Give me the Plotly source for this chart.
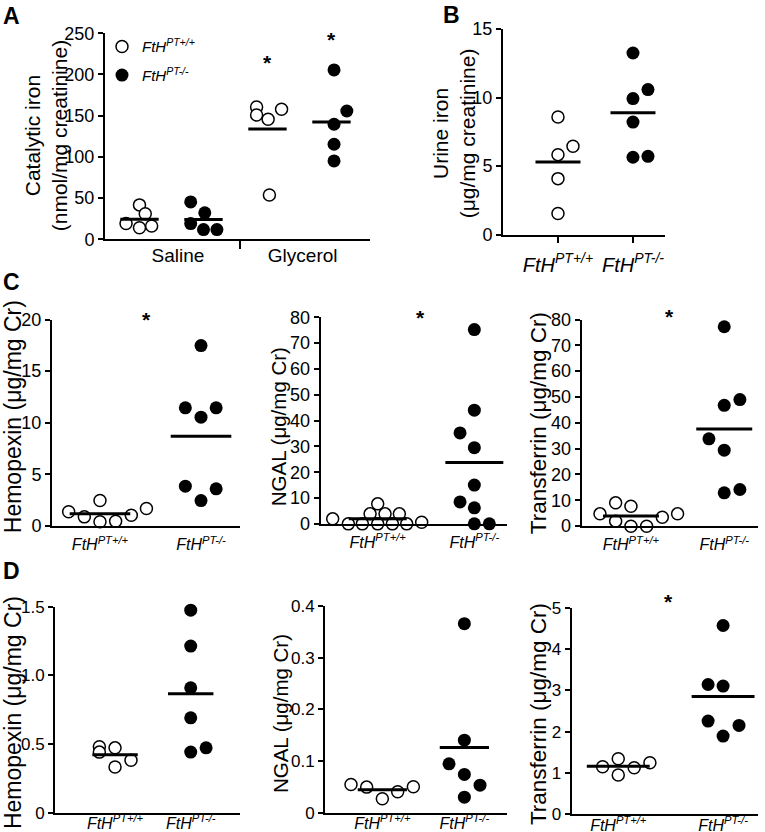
import numpy as np
import plotly.graph_objects as go

# ---------------- DATA ----------------
GROUP_LABELS = ["Saline", "Glycerol"]
GENOTYPE_WT = "<i>FtH<sup>PT+/+</sup></i>"
GENOTYPE_KO = "<i>FtH<sup>PT-/-</sup></i>"

# Panel A: catalytic iron (nmol/mg creatinine)
A_SALINE_WT = [41.7, 31.0, 19.0, 14.0, 16.0]
A_SALINE_KO = [45.3, 32.0, 19.0, 11.7, 11.7]
A_GLY_WT = [160.6, 150.9, 145.6, 157.8, 53.8]
A_GLY_KO = [205.5, 155.7, 139.6, 115.3, 95.1]

# Panel B: urine iron (ug/mg creatinine)
B_WT = [8.58, 6.44, 5.83, 4.08, 1.53]
B_KO = [13.25, 10.58, 9.92, 8.21, 5.64, 5.71]

# Panel C (ug/mg Cr)
C_HPX_WT = [1.39, 0.90, 2.48, 0.42, 0.48, 1.06, 1.71]
C_HPX_KO = [17.48, 11.45, 11.45, 10.55, 3.87, 3.61, 2.48]
C_NGAL_WT = [1.94, 0.0, 0.0, 3.87, 7.74, 0.0, 3.87, 0.0, 3.87, 0.0, 0.65]
C_NGAL_KO = [75.2, 44.0, 35.2, 29.5, 15.0, 8.5, 6.2, 0.0, 0.0]
C_TF_WT = [4.77, 9.03, 1.94, 7.74, 0.0, 0.0, 3.48, 4.77]
C_TF_KO = [77.2, 46.8, 49.0, 33.8, 29.4, 12.9, 14.2]

# Panel D (ug/mg Cr)
D_HPX_WT = [0.481, 0.442, 0.473, 0.333, 0.383]
D_HPX_KO = [1.476, 1.214, 0.910, 0.692, 0.442, 0.473]
D_NGAL_WT = [0.0548, 0.0497, 0.0271, 0.0406, 0.0503]
D_NGAL_KO = [0.366, 0.1406, 0.0948, 0.0742, 0.0535, 0.0303]
D_TF_WT = [1.153, 1.347, 0.952, 1.129, 1.250]
D_TF_KO = [4.573, 3.145, 3.105, 2.258, 2.153, 1.895]

# Tick values
A_TICKS = [0, 50, 100, 150, 200, 250]
B_TICKS = [0, 5, 10, 15]
C_HPX_TICKS = [0, 5, 10, 15, 20]
C_NGAL_TICKS = [0, 10, 20, 30, 40, 50, 60, 70, 80]
C_TF_TICKS = [0, 10, 20, 30, 40, 50, 60, 70, 80]
D_HPX_TICKS = [0, 0.5, 1.0, 1.5]
D_HPX_TICKTEXT = ["0", "0.5", "1.0", "1.5"]
D_NGAL_TICKS = [0, 0.1, 0.2, 0.3, 0.4]
D_NGAL_TICKTEXT = ["0", "0.1", "0.2", "0.3", "0.4"]
D_TF_TICKS = [0, 1, 2, 3, 4, 5]

# Significance asterisks: (panel index, x in category units, y value)
STARS = [(1, 3, 214), (1, 4, 243), (3, 1.46, 20), (4, 1.445, 80), (5, 1.418, 81), (8, 1.476, 5.16)]

# ---------------- LAYOUT (positions / jitter) ----------------
JIT_A_SALINE_WT = [0, 0.09, -0.21, 0, 0.19]
JIT_A_SALINE_KO = [-0.2, 0.02, -0.2, 0, 0.21]
JIT_A_GLY_WT = [-0.17, -0.17, 0.01, 0.22, 0.03]
JIT_A_GLY_KO = [0.04, 0.24, 0.04, 0.04, 0.04]
JIT_B_WT = [0, 0.2, 0, 0, 0]
JIT_B_KO = [0, 0.2, 0, 0, 0, 0.2]
JIT_C_HPX_WT = [-0.31, -0.155, 0, 0, 0.155, 0.31, 0.46]
JIT_C_HPX_KO = [0, -0.155, 0.15, 0, -0.155, 0.15, 0]
JIT_C_NGAL_WT = [-0.466, -0.304, -0.159, -0.079, 0, 0, 0.076, 0.152, 0.224, 0.3, 0.455]
JIT_C_NGAL_KO = [0, 0, -0.148, 0, 0, -0.148, 0, 0, 0.155]
JIT_C_TF_WT = [-0.332, -0.164, -0.164, 0, 0, 0.168, 0.336, 0.5]
JIT_C_TF_KO = [0, 0, 0.168, -0.164, 0, 0, 0.168]
JIT_D_HPX_WT = [-0.207, -0.207, 0, 0, 0.211]
JIT_D_HPX_KO = [0, 0, 0, 0, 0, 0.203]
JIT_D_NGAL_WT = [-0.382, -0.191, 0, 0.187, 0.378]
JIT_D_NGAL_KO = [0, 0, -0.187, 0, 0.191, 0]
JIT_D_TF_WT = [-0.149, 0, 0, 0.152, 0.302]
JIT_D_TF_KO = [0, -0.143, 0, -0.143, 0.152, 0]

W, H = 765, 860
FONT = "Liberation Sans, Arial, Helvetica, sans-serif"
SY, OY = 0.977, 8.7   # empirical vertical mapping of the capture


def fx(p):
    return p / W


def fy(p):
    """target pixel row -> paper fraction (compensating the capture mapping)"""
    return 1 - ((p - OY) / SY) / H


WT_MARKER = dict(symbol="circle", size=12, color="white", line=dict(color="black", width=1.5))
KO_MARKER = dict(symbol="circle", size=13, color="black", line=dict(color="black", width=0))

panels = [
    dict(xd=(105, 370), yd=(32, 238), yr=[0, 250], xr=[0.461, 4.602], yt=A_TICKS, ytt=None,
         groups=[(1, A_SALINE_WT, JIT_A_SALINE_WT, "wt"), (2, A_SALINE_KO, JIT_A_SALINE_KO, "ko"),
                 (3, A_GLY_WT, JIT_A_GLY_WT, "wt"), (4, A_GLY_KO, JIT_A_GLY_KO, "ko")],
         title="Catalytic iron<br>(nmol/mg creatinine)", tpos=(46, 135), tsize=21, ytf=18),
    dict(xd=(503, 665), yd=(27.7, 233.3), yr=[0, 15], xr=[0.267, 2.427], yt=B_TICKS, ytt=None,
         groups=[(1, B_WT, JIT_B_WT, "wt"), (2, B_KO, JIT_B_KO, "ko")],
         title="Urine iron<br>(μg/mg creatinine)", tpos=(454, 132), tsize=21, ytf=18),
    dict(xd=(52, 240), yd=(318.3, 525), yr=[0, 20], xr=[0.525, 2.386], yt=C_HPX_TICKS, ytt=None,
         groups=[(1, C_HPX_WT, JIT_C_HPX_WT, "wt"), (2, C_HPX_KO, JIT_C_HPX_KO, "ko")],
         title="Hemopexin (μg/mg Cr)", tpos=(13, 416), tsize=23, ytf=18),
    dict(xd=(320.7, 507), yd=(316, 522.7), yr=[0, 80], xr=[0.41, 2.338], yt=C_NGAL_TICKS, ytt=None,
         groups=[(1, C_NGAL_WT, JIT_C_NGAL_WT, "wt"), (2, C_NGAL_KO, JIT_C_NGAL_KO, "ko")],
         title="NGAL (μg/mg Cr)", tpos=(278, 426), tsize=20.5, ytf=18),
    dict(xd=(581.7, 758), yd=(318.3, 525), yr=[0, 80], xr=[0.472, 2.362], yt=C_TF_TICKS, ytt=None,
         groups=[(1, C_TF_WT, JIT_C_TF_WT, "wt"), (2, C_TF_KO, JIT_C_TF_KO, "ko")],
         title="Transferrin (μg/mg Cr)", tpos=(538, 422), tsize=22.5, ytf=18),
    dict(xd=(55, 240), yd=(605.7, 811.7), yr=[0, 1.5], xr=[0.207, 2.651], yt=D_HPX_TICKS, ytt=D_HPX_TICKTEXT,
         groups=[(1, D_HPX_WT, JIT_D_HPX_WT, "wt"), (2, D_HPX_KO, JIT_D_HPX_KO, "ko")],
         title="Hemopexin (μg/mg Cr)", tpos=(13, 712), tsize=23, ytf=17),
    dict(xd=(325, 506.7), yd=(605, 811.7), yr=[0, 0.4], xr=[0.301, 2.516], yt=D_NGAL_TICKS, ytt=D_NGAL_TICKTEXT,
         groups=[(1, D_NGAL_WT, JIT_D_NGAL_WT, "wt"), (2, D_NGAL_KO, JIT_D_NGAL_KO, "ko")],
         title="NGAL (μg/mg Cr)", tpos=(280, 713), tsize=20.5, ytf=17),
    dict(xd=(571.7, 758), yd=(606.7, 813.3), yr=[0, 5], xr=[0.556, 2.333], yt=D_TF_TICKS, ytt=None,
         groups=[(1, D_TF_WT, JIT_D_TF_WT, "wt"), (2, D_TF_KO, JIT_D_TF_KO, "ko")],
         title="Transferrin (μg/mg Cr)", tpos=(538, 713), tsize=22.5, ytf=17),
]

fig = go.Figure()
layout = dict(width=W, height=H, margin=dict(l=0, r=0, t=0, b=0),
              paper_bgcolor="white", plot_bgcolor="white",
              font=dict(family=FONT, color="black"))
annotations = []
legend_done = {"wt": False, "ko": False}

for i, p in enumerate(panels, start=1):
    sx = "" if i == 1 else str(i)
    xref, yref = "x" + sx, "y" + sx
    for (c, vals, jit, kind) in p["groups"]:
        show = (i == 1 and not legend_done[kind])
        if show:
            legend_done[kind] = True
        fig.add_trace(go.Scatter(
            x=[c + j for j in jit], y=vals, mode="markers",
            marker=WT_MARKER if kind == "wt" else KO_MARKER,
            name=GENOTYPE_WT if kind == "wt" else GENOTYPE_KO, legendgroup=kind,
            showlegend=show, cliponaxis=False, xaxis=xref, yaxis=yref, hoverinfo="skip"))
    for (c, vals, jit, kind) in p["groups"]:
        m = float(np.mean(vals))
        fig.add_trace(go.Scatter(
            x=[c - 0.3, c + 0.3], y=[m, m], mode="lines",
            line=dict(color="black", width=3), showlegend=False,
            cliponaxis=False, xaxis=xref, yaxis=yref, hoverinfo="skip"))

    yax = dict(domain=[fy(p["yd"][1]), fy(p["yd"][0])], range=p["yr"], anchor=xref,
               showline=True, linecolor="black", linewidth=2, ticks="outside",
               ticklen=5, tickwidth=2, tickcolor="black", showgrid=False, zeroline=False,
               tickvals=p["yt"], tickfont=dict(size=p["ytf"], family=FONT, color="black"))
    if p["ytt"] is not None:
        yax["ticktext"] = p["ytt"]
    xax = dict(domain=[fx(p["xd"][0]), fx(p["xd"][1])], range=p["xr"], anchor=yref,
               showline=True, linecolor="black", linewidth=2, showgrid=False, zeroline=False,
               tickfont=dict(size=16, family=FONT, color="black"))
    if i == 1:
        xax.update(tickvals=[1.6, 3.55], ticktext=GROUP_LABELS, ticks="",
                   tickfont=dict(size=19, family=FONT, color="black"),
                   ticklabelstandoff=-2,
                   minor=dict(tickvals=[2.57], ticks="outside", ticklen=8, tickwidth=2,
                              tickcolor="black"))
    elif i == 2:
        xax.update(tickvals=[1, 2], ticktext=[GENOTYPE_WT, GENOTYPE_KO], ticks="outside",
                   ticklen=6, tickwidth=2, tickcolor="black", ticklabelstandoff=5,
                   tickfont=dict(size=20, family=FONT, color="black"))
    elif i >= 6:
        xax.update(tickvals=[1, 2], ticktext=[GENOTYPE_WT, GENOTYPE_KO], ticks="",
                   ticklabelstandoff=-5)
    else:
        xax.update(tickvals=[1, 2], ticktext=[GENOTYPE_WT, GENOTYPE_KO], ticks="",
                   ticklabelstandoff=3)
    layout["xaxis" + sx] = xax
    layout["yaxis" + sx] = yax

    annotations.append(dict(text=p["title"], textangle=-90, xref="paper", yref="paper",
                            x=fx(p["tpos"][0]), y=fy(p["tpos"][1]), xanchor="center",
                            yanchor="middle", showarrow=False,
                            font=dict(size=p["tsize"], family=FONT, color="black")))

# significance asterisks (converted to paper coordinates so they are never clipped)
for (pi, xv, yv) in STARS:
    p = panels[pi - 1]
    x0, x1 = fx(p["xd"][0]), fx(p["xd"][1])
    y0, y1 = fy(p["yd"][1]), fy(p["yd"][0])
    px_ = x0 + (xv - p["xr"][0]) / (p["xr"][1] - p["xr"][0]) * (x1 - x0)
    py_ = y0 + (yv - p["yr"][0]) / (p["yr"][1] - p["yr"][0]) * (y1 - y0)
    annotations.append(dict(text="<b>*</b>", xref="paper", yref="paper", x=px_, y=py_,
                            xanchor="center", yanchor="middle", showarrow=False,
                            font=dict(size=21, family=FONT, color="black")))

# panel letters
for (letter, lx, ly) in [("A", 11, 15), ("B", 451, 14), ("C", 11.5, 281), ("D", 11, 570)]:
    annotations.append(dict(text="<b>%s</b>" % letter, xref="paper", yref="paper",
                            x=fx(lx), y=fy(ly), xanchor="center", yanchor="middle",
                            showarrow=False, font=dict(size=23, family=FONT, color="black")))

layout["annotations"] = annotations
layout["legend"] = dict(x=fx(102), y=fy(29), xanchor="left", yanchor="top",
                        bgcolor="rgba(0,0,0,0)", borderwidth=0, tracegroupgap=6,
                        font=dict(size=15, family=FONT, color="black"))
fig.update_layout(**layout)
fig.write_html(
    "out.html",
    config={"displayModeBar": False, "staticPlot": True},
    post_script=("document.documentElement.style.margin='0px';"
                 "document.documentElement.style.padding='0px';"
                 "document.body.style.margin='0px';"
                 "document.body.style.padding='0px';"
                 "document.documentElement.style.overflow='hidden';"
                 "document.body.style.overflow='hidden';"
                 "var gd=document.getElementById('{plot_id}');"
                 "gd.style.position='fixed';gd.style.top='0px';gd.style.left='0px';"),
)
